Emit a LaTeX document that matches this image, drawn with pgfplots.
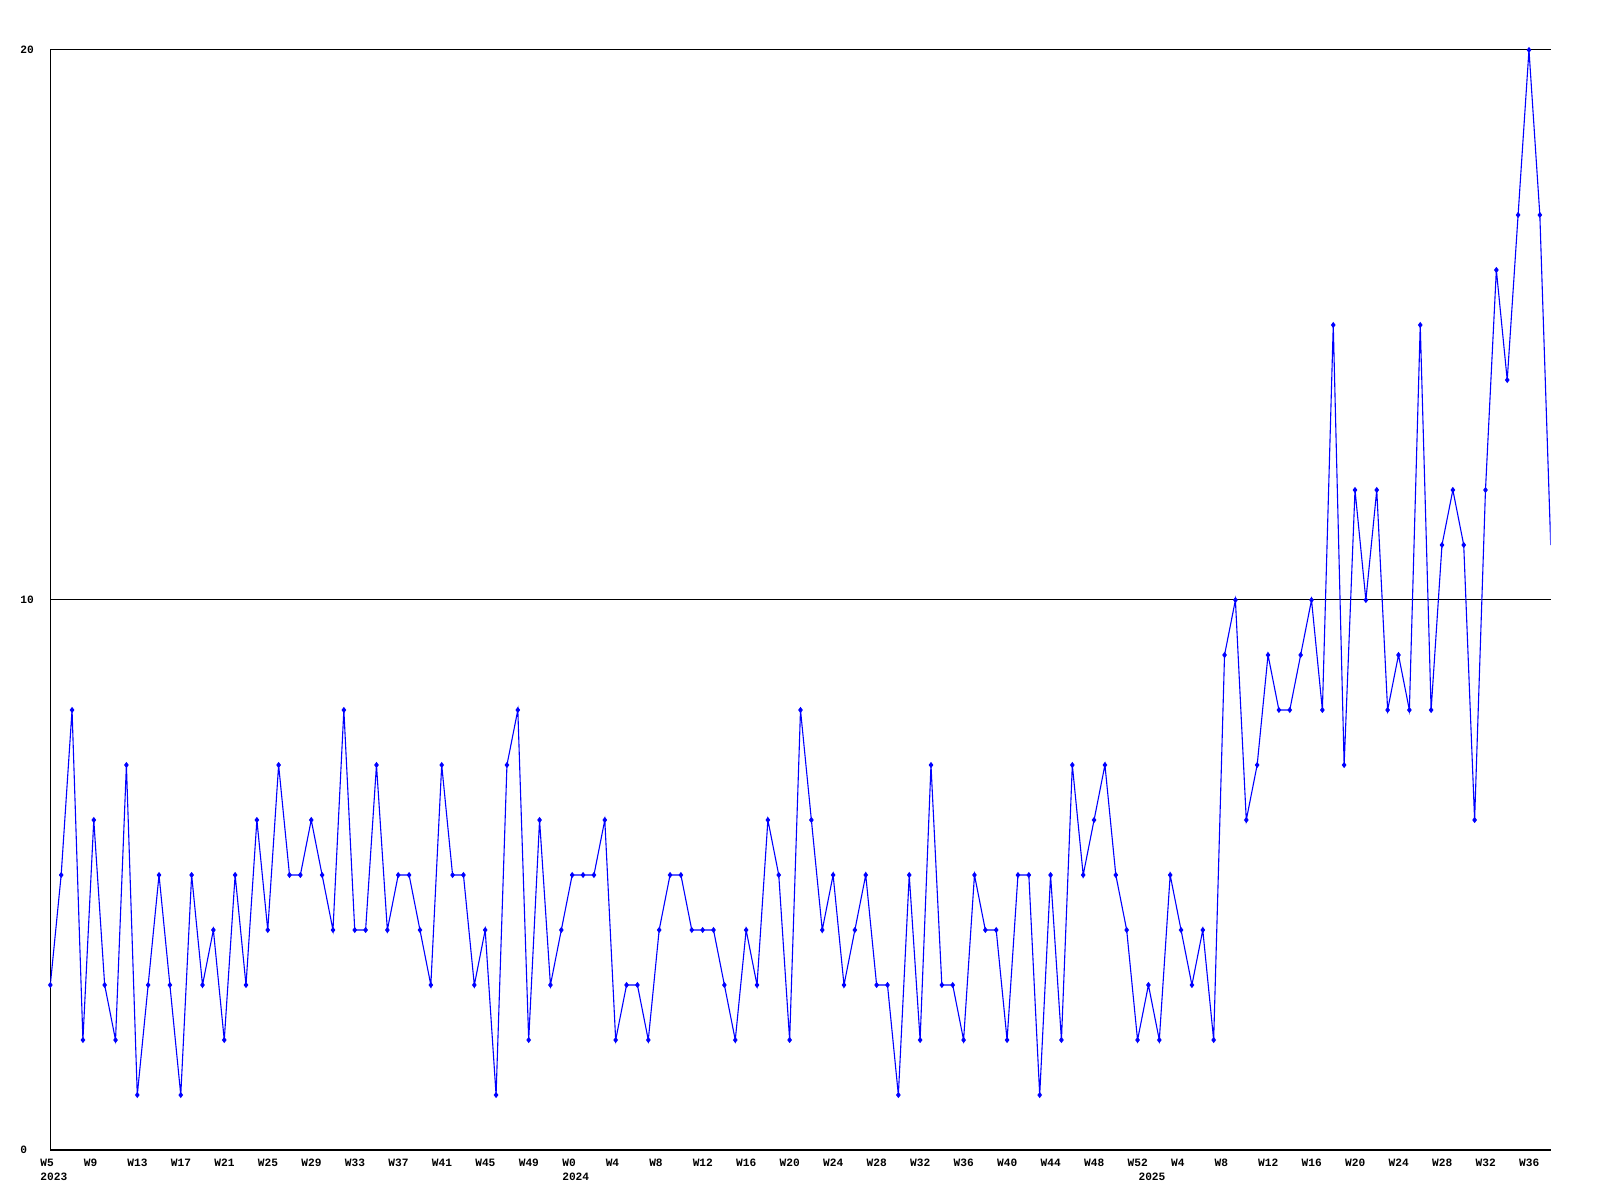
\documentclass[border=0pt]{standalone}
\usepackage{pgfplots}
\pgfplotsset{compat=1.18}
\usepackage{fontspec}
\setmainfont{Liberation Sans}
\newfontfamily\labfont{Liberation Mono}
\definecolor{serie}{RGB}{0,0,255}

% weekly counts, 2023 W5 .. 2025 W38 (index 0..138)
\pgfplotstableread{
i v
0 3
1 5
2 8
3 2
4 6
5 3
6 2
7 7
8 1
9 3
10 5
11 3
12 1
13 5
14 3
15 4
16 2
17 5
18 3
19 6
20 4
21 7
22 5
23 5
24 6
25 5
26 4
27 8
28 4
29 4
30 7
31 4
32 5
33 5
34 4
35 3
36 7
37 5
38 5
39 3
40 4
41 1
42 7
43 8
44 2
45 6
46 3
47 4
48 5
49 5
50 5
51 6
52 2
53 3
54 3
55 2
56 4
57 5
58 5
59 4
60 4
61 4
62 3
63 2
64 4
65 3
66 6
67 5
68 2
69 8
70 6
71 4
72 5
73 3
74 4
75 5
76 3
77 3
78 1
79 5
80 2
81 7
82 3
83 3
84 2
85 5
86 4
87 4
88 2
89 5
90 5
91 1
92 5
93 2
94 7
95 5
96 6
97 7
98 5
99 4
100 2
101 3
102 2
103 5
104 4
105 3
106 4
107 2
108 9
109 10
110 6
111 7
112 9
113 8
114 8
115 9
116 10
117 8
118 15
119 7
120 12
121 10
122 12
123 8
124 9
125 8
126 15
127 8
128 11
129 12
130 11
131 6
132 12
133 16
134 14
135 17
136 20
137 17
138 11
}\weekly

\begin{document}
\begin{tikzpicture}
% canvas of the reference (1 px = 0.5pt)
\path (-25.15pt,-25pt) rectangle (774.85pt,575pt);
\begin{axis}[
    at={(0pt,0pt)}, anchor=south west,
    scale only axis,
    width=750.2pt, height=550pt,
    xmin=0, xmax=138, ymin=0, ymax=20,
    separate axis lines,
    axis x line*=bottom,
    axis y line*=left,
    axis line style={black, line width=0.55pt},
    major tick length=0pt,
    ymajorgrids,
    grid style={black, line width=0.5pt},
    ytick={0,10,20},
    yticklabels={0,10,20},
    xtick={0,4,...,136},
    xticklabels={W5,W9,W13,W17,W21,W25,W29,W33,W37,W41,W45,W49,
        W0,W4,W8,W12,W16,W20,W24,W28,W32,W36,W40,W44,W48,W52,
        W4,W8,W12,W16,W20,W24,W28,W32,W36},
    extra x ticks={0,48,101},
    extra x tick labels={2023,2024,2025},
    extra x tick style={grid=none, xticklabel style={yshift=-7pt}},
    ticklabel style={font=\labfont\bfseries\fontsize{5.6}{6}\selectfont, inner sep=0pt},
    yticklabel style={anchor=west, xshift=-15.15pt},
    xticklabel style={anchor=north west, xshift=-5.15pt, yshift=-4.15pt},
]
\addplot[serie, line width=0.55pt, mark=diamond*, mark size=1.1pt,
    mark options={serie, solid}, mark indices={1,...,138}]
    table[x=i, y=v] {\weekly};
\end{axis}
\end{tikzpicture}
\end{document}
